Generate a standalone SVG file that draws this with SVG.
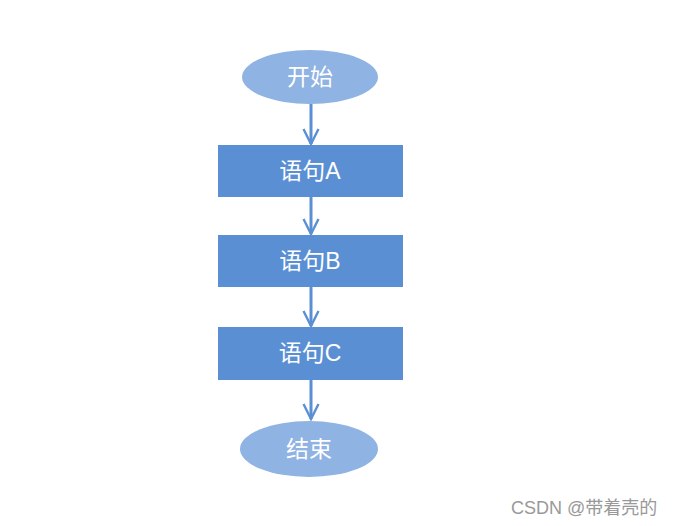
<svg xmlns="http://www.w3.org/2000/svg" width="677" height="526" viewBox="0 0 677 526">
<style>
.term{fill:#8fb3e2;}
.box{fill:#5b8fd4;}
.lbl{fill:#ffffff;font-family:"Liberation Sans","Noto Sans CJK SC",sans-serif;font-size:23px;text-anchor:middle;dominant-baseline:central;}
.conn{stroke:#5b8fd4;stroke-width:3;fill:none;marker-end:url(#arr);}
.wm{fill:#999999;font-family:"Liberation Sans","Noto Sans CJK SC",sans-serif;font-size:18px;}
</style>
<defs>
<marker id="arr" viewBox="0 0 12 12" refX="11" refY="6" markerWidth="6" markerHeight="6" markerUnits="strokeWidth" orient="auto">
<path d="M1,1 L11,6 L1,11" fill="none" stroke="#5b8fd4" stroke-width="1.6"/>
</marker>
</defs>
<rect width="677" height="526" fill="#ffffff"/>
<g id="connectors">
<line class="conn" x1="311" y1="104" x2="311" y2="144"/>
<line class="conn" x1="311" y1="197" x2="311" y2="234"/>
<line class="conn" x1="311" y1="287" x2="311" y2="326"/>
<line class="conn" x1="311" y1="380" x2="311" y2="419"/>
</g>
<g id="start">
<ellipse class="term" cx="310" cy="77" rx="68" ry="27"/>
<text class="lbl" x="310" y="77">开始</text>
</g>
<g id="stmtA">
<rect class="box" x="218" y="145" width="185" height="52"/>
<text class="lbl" x="310" y="171">语句A</text>
</g>
<g id="stmtB">
<rect class="box" x="218" y="235" width="185" height="52"/>
<text class="lbl" x="310" y="261">语句B</text>
</g>
<g id="stmtC">
<rect class="box" x="218" y="327" width="185" height="53"/>
<text class="lbl" x="310" y="353">语句C</text>
</g>
<g id="end">
<ellipse class="term" cx="309" cy="449" rx="69" ry="28"/>
<text class="lbl" x="309" y="449">结束</text>
</g>
<text class="wm" x="511" y="514">CSDN @带着壳的</text>
</svg>
